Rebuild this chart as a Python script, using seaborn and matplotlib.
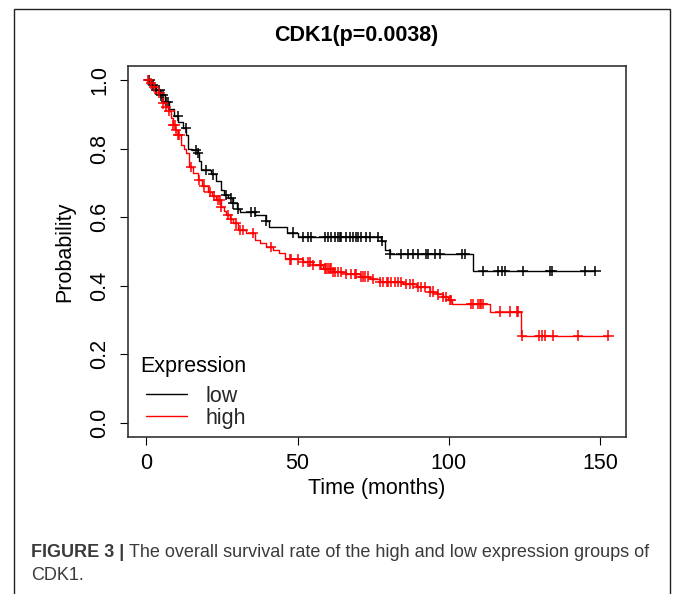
import numpy as np
import pandas as pd
import matplotlib
matplotlib.use("Agg")
import matplotlib.pyplot as plt
from matplotlib.patches import Rectangle
from matplotlib.lines import Line2D
import seaborn as sns

# ---------------- data ----------------
title_text = "CDK1(p=0.0038)"
groups = ["low", "high"]
group_colors = ["black", "red"]

# low expression group: event times (months) and survival after each drop
low_event_t = [1.5, 3, 4.5, 6, 7.5, 9, 10.5, 12, 13.2, 13.6, 15, 16.9, 17.5, 18.2,
               21.5, 23, 24.5, 25.8, 27, 28.5, 29.8, 31, 36, 39.5, 40.5, 46.5, 50,
               77.5, 79, 80.5, 108]
low_surv = [0.985, 0.97, 0.955, 0.935, 0.915, 0.895, 0.878, 0.86, 0.84, 0.80, 0.795,
            0.787, 0.765, 0.737, 0.725, 0.705, 0.68, 0.665, 0.655, 0.64, 0.625, 0.615,
            0.607, 0.59, 0.571, 0.555, 0.542, 0.53, 0.505, 0.493, 0.444]
low_censor_t = [1, 2.1, 3.2, 4.3, 4.9, 5.4, 6.5, 7.1, 10.4, 13.1, 16.5, 17, 19.8, 22,
                26.4, 28, 28.6, 30.2, 34.7, 35.8, 39.6, 48.4, 51.7, 53.4, 54.5, 58.9,
                60, 61.1, 62.3, 63.4, 63.9, 64.5, 66.1, 67.2, 68.3, 69.4, 70, 71.1,
                72.7, 73.8, 76.6, 77.8, 80.5, 84.3, 86.5, 88.2, 89.8, 92.6, 93.2, 95.4,
                97.0, 104.2, 105.3, 111.4, 116.3, 117.5, 118.5, 124.4, 133.4, 134,
                145, 148.5]

# high expression group
high_event_t = [1, 2.1, 3, 3.7, 4.5, 5.4, 6.2, 7.1, 8, 8.7, 9.6, 10.4, 11.5, 12.3,
                13.1, 14.2, 15.5, 17, 18.5, 20.3, 21.7, 23.1, 24.7, 25.5, 26.4, 27.5,
                28.6, 30.2, 33, 35.8, 37.5, 39.6, 41.8, 44, 45.7, 51.8, 55, 58.4,
                61.7, 66, 70.5, 74, 77.2, 84.9, 89.3, 93.7, 96, 98.1, 99.8, 100.9,
                113.6, 123.8]
high_surv = [0.99, 0.98, 0.97, 0.962, 0.95, 0.932, 0.922, 0.91, 0.89, 0.869, 0.855,
             0.84, 0.81, 0.80, 0.786, 0.747, 0.73, 0.708, 0.69, 0.674, 0.662, 0.65,
             0.631, 0.618, 0.606, 0.594, 0.582, 0.563, 0.553, 0.534, 0.524, 0.514,
             0.504, 0.495, 0.477, 0.470, 0.461, 0.450, 0.441, 0.435, 0.427, 0.419,
             0.412, 0.405, 0.396, 0.383, 0.375, 0.368, 0.359, 0.347, 0.325, 0.255]
high_censor_t = [0.5, 1.6, 2.6, 4.3, 5.4, 6.5, 7.6, 8.7, 9.3, 9.8, 10.4, 10.9, 14.8,
                 17.5, 19.2, 20.9, 22.5, 23.6, 24.2, 24.7, 26.9, 28.0, 29.7, 30.8,
                 31.9, 35.2, 41.3, 47.4, 47.9, 50.1, 51.8, 53.4, 54.0, 55.1, 57.3,
                 57.8, 59.0, 59.5, 60.1, 60.6, 61.1, 61.7, 62.3, 63.3, 64.5, 66.1,
                 67.8, 68.9, 69.4, 71.1, 71.6, 72.2, 73.3, 75.0, 77.2, 78.3, 79.4,
                 79.9, 81.0, 82.1, 83.2, 84.3, 86.0, 87.1, 88.2, 89.8, 90.9, 92.0,
                 93.7, 94.8, 96.4, 98.1, 99.2, 100.3, 100.8, 107.5, 108.1, 109.7,
                 110.3, 110.8, 111.4, 116.9, 120.2, 122.4, 122.9, 124.1, 129.9,
                 130.7, 131.8, 134.3, 142.8, 152.8]

x_ticks = [0, 50, 100, 150]
y_ticks = [0.0, 0.2, 0.4, 0.6, 0.8, 1.0]
y_ticklabels = ["0.0", "0.2", "0.4", "0.6", "0.8", "1.0"]
x_label = "Time (months)"
y_label = "Probability"
legend_title = "Expression"
caption_bold = "FIGURE 3 |"
caption_line1 = "The overall survival rate of the high and low expression groups of"
caption_line2 = "CDK1."

# ---------------- build tables ----------------
def step_table(name, ev_t, surv, cens_t):
    t_end = max(max(cens_t), max(ev_t))
    t = [0.0] + list(ev_t) + [t_end]
    s = [1.0] + list(surv) + [surv[-1]]
    line = pd.DataFrame({"time": t, "surv": s, "group": name})
    ev = np.array([0.0] + list(ev_t))
    sv = np.array([1.0] + list(surv))
    idx = np.searchsorted(ev, np.array(cens_t), side="right") - 1
    cens = pd.DataFrame({"time": cens_t, "surv": sv[idx], "group": name})
    return line, cens

l1, c1 = step_table("low", low_event_t, low_surv, low_censor_t)
l2, c2 = step_table("high", high_event_t, high_surv, high_censor_t)
lines = pd.concat([l1, l2], ignore_index=True)
cens = pd.concat([c1, c2], ignore_index=True)
palette = dict(zip(groups, group_colors))

# ---------------- figure ----------------
sns.set_theme(style="white")
plt.rcParams["font.family"] = ["Liberation Sans", "DejaVu Sans"]
FS = 15.5

fig = plt.figure(figsize=(6.74, 5.94), dpi=100)
ax = fig.add_axes([128/674, 1-437/594, (626-128)/674, (437-66)/594])

sns.lineplot(data=lines, x="time", y="surv", hue="group", palette=palette,
             drawstyle="steps-post", estimator=None, sort=False, lw=1.0,
             legend=False, ax=ax)
sns.scatterplot(data=cens, x="time", y="surv", hue="group", palette=palette,
                marker="+", s=55, linewidth=1.1, legend=False, ax=ax, zorder=3)

ax.set_xlim(-6.1, 158.6)
ax.set_ylim(-0.041, 1.041)
ax.set_xticks(x_ticks)
ax.set_xticklabels([str(v) for v in x_ticks], fontsize=FS)
ax.set_yticks(y_ticks)
ax.set_yticklabels(y_ticklabels, fontsize=FS, rotation=90, va="center")
ax.tick_params(axis="both", direction="out", length=5.8, width=0.8, color="black",
               labelcolor="black", bottom=True, left=True)
ax.tick_params(axis="x", pad=5.5)
ax.tick_params(axis="y", pad=7)
for sp in ax.spines.values():
    sp.set_color("#333333")
    sp.set_linewidth(1.2)

ax.set_xlabel(x_label, fontsize=FS, color="black")
ax.set_ylabel(y_label, fontsize=FS, color="black")
ax.xaxis.set_label_coords(0.5, -0.11)
ax.yaxis.set_label_coords(-0.106, 0.5)

# legend
ax.text(0.024, 0.19, legend_title, transform=ax.transAxes, fontsize=FS,
        ha="left", va="center", color="black")
handles = [Line2D([], [], color=c, lw=1.0) for c in group_colors]
ax.legend(handles, groups, loc="center left", bbox_to_anchor=(0.036, 0.08),
          frameon=False, fontsize=FS, handlelength=1.9, handletextpad=0.85,
          labelspacing=0.05, borderpad=0, borderaxespad=0)

# title
fig.text(356/674, 1-35/594, title_text, fontsize=FS, fontweight="bold",
         ha="center", va="center", color="black")

# caption
cap_color = "#3a3a3a"
CFS = 13.0
t1 = fig.text(31/674, 1-557/594, caption_bold, fontsize=CFS, fontweight="bold",
              ha="left", va="baseline", color=cap_color)
fig.canvas.draw()
bb = t1.get_window_extent()
fig.text((bb.x1 + 5)/674, 1-557/594, caption_line1, fontsize=CFS,
         ha="left", va="baseline", color=cap_color)
fig.text(31/674, 1-580/594, caption_line2, fontsize=CFS,
         ha="left", va="baseline", color=cap_color)

# outer frame of the figure panel
fig.add_artist(Rectangle((14/674, -0.05), (670-14)/674, (1-9/594) + 0.05,
                         transform=fig.transFigure, fill=False, lw=1.0,
                         ec="#222222", clip_on=False))

fig.savefig("out.png", dpi=100)
